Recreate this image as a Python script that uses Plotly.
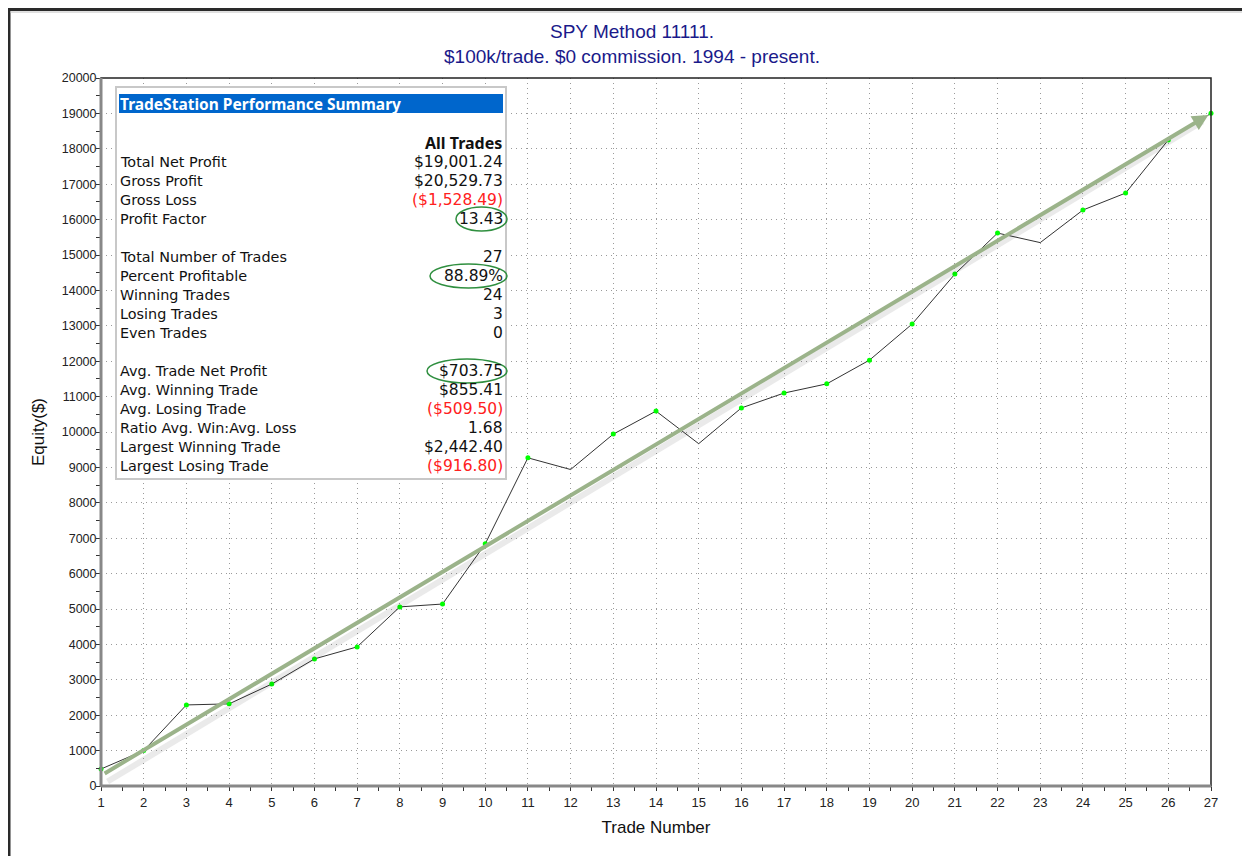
import plotly.graph_objects as go

# ---------------- data ----------------
trade_number = list(range(1, 28))
equity = [480, 1000, 2290, 2320, 2880, 3590, 3930, 5060, 5140, 6840,
          9270, 8940, 9940, 10590, 9670, 10680, 11100, 11360, 12030, 13050,
          14460, 15620, 15350, 16270, 16750, 18250, 19001.24]
losing_trades = [12, 15, 23]
trend_x = [1, 27]
trend_y = [330, 19001.24]

y_ticks = list(range(0, 20001, 1000))
x_ticks = list(range(1, 28))

summary_labels = ["Total Net Profit", "Gross Profit", "Gross Loss", "Profit Factor", "",
                  "Total Number of Trades", "Percent Profitable", "Winning Trades",
                  "Losing Trades", "Even Trades", "",
                  "Avg. Trade Net Profit", "Avg. Winning Trade", "Avg. Losing Trade",
                  "Ratio Avg. Win:Avg. Loss", "Largest Winning Trade", "Largest Losing Trade"]
summary_values = ["$19,001.24", "$20,529.73", "($1,528.49)", "13.43", "",
                  "27", "88.89%", "24", "3", "0", "",
                  "$703.75", "$855.41", "($509.50)", "1.68", "$2,442.40", "($916.80)"]

# ellipse left edges (reference pixels) for highlighted rows
circled_left = {"Profit Factor": 456, "Percent Profitable": 430, "Avg. Trade Net Profit": 427}

# ---------------- layout helpers (reference pixel -> paper) ----------------
OFF = 8                      # browser body margin
W, H = 1250 - OFF, 856 - OFF
L, R, T, B = 101, 1211, 78, 786   # plot area in reference pixels
def px(x):
    return (x - L) / (R - L)
def py(y):
    return (B - y) / (B - T)

win_x = [t for t in trade_number if t not in losing_trades]
win_y = [equity[t - 1] for t in win_x]

fig = go.Figure()
fig.add_trace(go.Scatter(x=trade_number, y=equity, mode="lines",
                         line=dict(color="#333333", width=1), hoverinfo="skip",
                         showlegend=False))
fig.add_trace(go.Scatter(x=win_x, y=win_y, mode="markers", cliponaxis=False,
                         marker=dict(color="#00ff00", size=5), showlegend=False))

LABEL_FONT = "DejaVu Sans"
HEAD_FONT = "Noto Sans"
annotations = []
shapes = []

# trend arrow shadow + arrow
annotations.append(dict(x=trend_x[1] - 0.2, y=trend_y[1] - 230, ax=trend_x[0] + 0.12, ay=trend_y[0] - 230,
                        xref="x", yref="y", axref="x", ayref="y", text="", showarrow=True,
                        arrowhead=0, arrowwidth=6, arrowcolor="rgba(0,0,0,0.08)"))
annotations.append(dict(x=trend_x[1], y=trend_y[1], ax=trend_x[0] + 0.05, ay=trend_y[0],
                        xref="x", yref="y", axref="x", ayref="y", text="", showarrow=True,
                        arrowhead=2, arrowsize=0.8, arrowwidth=4, standoff=3,
                        arrowcolor="#9bb38a"))

# plot frame
shapes.append(dict(type="rect", xref="paper", yref="paper", x0=0, x1=1, y0=0, y1=1,
                   line=dict(color="#222222", width=1.5), layer="above"))
shapes.append(dict(type="line", xref="paper", yref="paper", x0=0, x1=0, y0=0, y1=1,
                   line=dict(color="#888888", width=3), layer="above"))
shapes.append(dict(type="line", xref="paper", yref="paper", x0=0, x1=1, y0=0, y1=0,
                   line=dict(color="#888888", width=3), layer="above"))
# outer window border
shapes.append(dict(type="line", xref="paper", yref="paper", x0=px(9), x1=px(9), y0=py(870), y1=py(8),
                   line=dict(color="#2a2a2a", width=3)))
shapes.append(dict(type="line", xref="paper", yref="paper", x0=px(8), x1=px(1260), y0=py(9.5), y1=py(9.5),
                   line=dict(color="#2a2a2a", width=3)))
shapes.append(dict(type="line", xref="paper", yref="paper", x0=px(10), x1=px(1260), y0=py(12), y1=py(12),
                   line=dict(color="#c0c0c0", width=1)))

# summary table box
shapes.append(dict(type="rect", xref="paper", yref="paper", x0=px(116), x1=px(506), y0=py(479), y1=py(87),
                   fillcolor="white", line=dict(color="#c8c8c8", width=2), layer="above"))
shapes.append(dict(type="rect", xref="paper", yref="paper", x0=px(119), x1=px(503), y0=py(113), y1=py(94),
                   fillcolor="#0066cc", line=dict(width=0), layer="above"))
annotations.append(dict(x=px(118), y=py(104), xref="paper", yref="paper", xanchor="left", yanchor="middle",
                        text="<b>TradeStation Performance Summary</b>", showarrow=False,
                        font=dict(family=HEAD_FONT, size=15.5, color="white")))
annotations.append(dict(x=px(504), y=py(143), xref="paper", yref="paper", xanchor="right", yanchor="middle",
                        text="<b>All Trades</b>", showarrow=False,
                        font=dict(family=HEAD_FONT, size=16, color="#111111")))
row_y0, row_step = 162, 19
for i, (lab, val) in enumerate(zip(summary_labels, summary_values)):
    if not lab:
        continue
    yy = row_y0 + i * row_step
    annotations.append(dict(x=px(118), y=py(yy), xref="paper", yref="paper", xanchor="left", yanchor="middle",
                            text=lab, showarrow=False,
                            font=dict(family=LABEL_FONT, size=14.4, color="#111111")))
    col = "#ff2020" if val.startswith("(") else "#111111"
    annotations.append(dict(x=px(505), y=py(yy), xref="paper", yref="paper", xanchor="right", yanchor="middle",
                            text=val, showarrow=False,
                            font=dict(family=LABEL_FONT, size=15.5, color=col)))
    if lab in circled_left:
        shapes.append(dict(type="circle", xref="paper", yref="paper",
                           x0=px(circled_left[lab]), x1=px(507), y0=py(yy + 12), y1=py(yy - 12),
                           line=dict(color="#2f8f3f", width=1.5), layer="above"))

fig.update_layout(
    width=W, height=H,
    margin=dict(l=L - OFF, r=W - (R - OFF), t=T - OFF, b=H - (B - OFF)),
    paper_bgcolor="white", plot_bgcolor="white",
    title=dict(text="SPY Method 11111.<br>$100k/trade. $0 commission. 1994 - present.",
               x=(632 - OFF) / W, xref="container", xanchor="center",
               y=1 - (38 - OFF) / H, yref="container", yanchor="middle",
               font=dict(family="Liberation Sans", size=19, color="#1a1a8a")),
    font=dict(family="Liberation Sans", size=12, color="#222222"),
    xaxis=dict(range=[1, 27], tickvals=x_ticks, showgrid=True, gridcolor="#9a9a9a", griddash="1px,4px",
               gridwidth=1, zeroline=False, showline=False, ticks="outside", ticklen=4,
               tickcolor="#333333", tickfont=dict(size=13, color="#222222"),
               minor=dict(dtick=0.5, ticks="outside", ticklen=4, tickcolor="#333333", showgrid=False),
               title=dict(text="Trade Number", font=dict(size=17, color="#111111"), standoff=12)),
    yaxis=dict(range=[0, 20000], tickvals=y_ticks, tickformat="d", showgrid=True, gridcolor="#9a9a9a",
               griddash="1px,4px", gridwidth=1, zeroline=False, showline=False, ticks="outside", ticklen=4,
               ticklabelstandoff=-3,
               tickcolor="#333333", tickfont=dict(size=12.5, color="#222222"),
               minor=dict(dtick=500, ticks="outside", ticklen=4, tickcolor="#333333", showgrid=False),
               title=dict(text="Equity($)", font=dict(size=17, color="#111111"), standoff=12)),
    shapes=shapes, annotations=annotations,
)

fig.write_html("out.html")
